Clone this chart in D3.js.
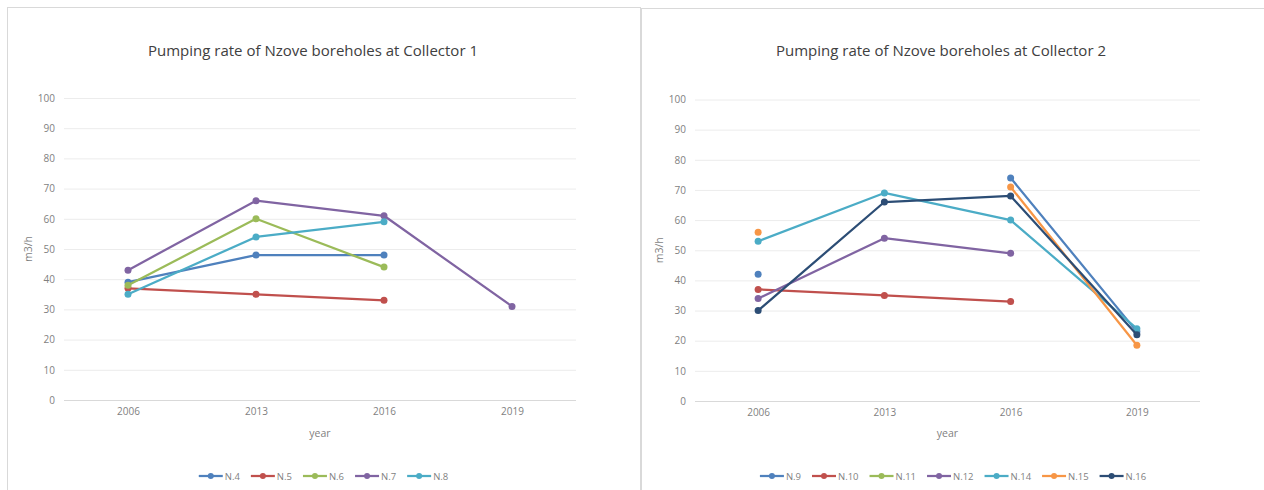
<!DOCTYPE html>
<html>
<head>
<meta charset="utf-8">
<script src="https://cdn.jsdelivr.net/npm/d3@7"></script>
<style>
  html, body { margin: 0; padding: 0; background: #ffffff; }
  svg { display: block; }
  text { font-family: "Open Sans", "Noto Sans", sans-serif; }
</style>
</head>
<body>
<svg id="chart" width="1264" height="490"></svg>
<script>
// Years on the category axis and the value ticks
const years = ["2006", "2013", "2016", "2019"];
const yTicks = [0, 10, 20, 30, 40, 50, 60, 70, 80, 90, 100];

// Collector 1 boreholes (m3/h), null = no measurement
const n4 = [39, 48, 48, null];
const n5 = [37, 35, 33, null];
const n6 = [38, 60, 44, null];
const n7 = [43, 66, 61, 31];
const n8 = [35, 54, 59, null];

// Collector 2 boreholes (m3/h)
const n9 = [42, null, 74, 23];
const n10 = [37, 35, 33, null];
const n11 = [null, null, null, null];
const n12 = [34, 54, 49, null];
const n14 = [53, 69, 60, 24];
const n15 = [56, null, 71, 18.5];
const n16 = [30, 66, 68, 22];

const leftNames = ["N.4", "N.5", "N.6", "N.7", "N.8"];
const leftValues = [n4, n5, n6, n7, n8];
const rightNames = ["N.9", "N.10", "N.11", "N.12", "N.14", "N.15", "N.16"];
const rightValues = [n9, n10, n11, n12, n14, n15, n16];

const leftColors = ["#4f81bd", "#c0504d", "#9bbb59", "#8064a2", "#4bacc6"];
const rightColors = ["#4f81bd", "#c0504d", "#9bbb59", "#8064a2", "#4bacc6", "#f79646", "#2c4d75"];

const svg = d3.select("#chart");

function drawPanel(cfg) {
  const g = svg.append("g");

  // panel frame
  g.append("rect")
    .attr("x", cfg.frame[0] + 0.5).attr("y", cfg.frame[1] + 0.5)
    .attr("width", cfg.frame[2]).attr("height", cfg.frame[3])
    .attr("fill", "#ffffff").attr("stroke", "#d9d9d9").attr("stroke-width", 1);

  const x = d3.scalePoint().domain(years).range([cfg.x0, cfg.x1]).padding(0.5);
  const y = d3.scaleLinear().domain([0, 100]).range([cfg.yBottom, cfg.yTop]);

  // gridlines + value labels
  const yAxis = g.append("g")
    .attr("transform", `translate(${cfg.x0},0)`)
    .call(d3.axisLeft(y).tickValues(yTicks).tickSize(-(cfg.x1 - cfg.x0)).tickPadding(9));
  yAxis.select(".domain").remove();
  yAxis.selectAll(".tick line").attr("stroke", "#ececec").attr("stroke-width", 1);
  yAxis.selectAll(".tick text").attr("fill", "#7f7f7f").attr("font-size", 10);
  yAxis.selectAll(".tick").filter(d => d === 0).select("line").attr("stroke", "#d9d9d9");

  // category labels
  const xAxis = g.append("g")
    .attr("transform", `translate(0,${cfg.yBottom})`)
    .call(d3.axisBottom(x).tickSize(0).tickPadding(8));
  xAxis.select(".domain").remove();
  xAxis.selectAll(".tick text").attr("fill", "#7f7f7f").attr("font-size", 10);

  // title and axis titles
  g.append("text")
    .attr("x", cfg.titleX).attr("y", 56)
    .attr("text-anchor", "middle").attr("font-size", 15).attr("fill", "#404040")
    .text(cfg.title);
  g.append("text")
    .attr("x", (cfg.x0 + cfg.x1) / 2).attr("y", 437)
    .attr("text-anchor", "middle").attr("font-size", 10.5).attr("fill", "#7f7f7f")
    .text("year");
  g.append("text")
    .attr("transform", `translate(${cfg.x0 - 32},${(cfg.yTop + cfg.yBottom) / 2}) rotate(-90)`)
    .attr("text-anchor", "middle").attr("font-size", 10.5).attr("fill", "#7f7f7f")
    .text("m3/h");

  // series lines and markers
  const line = d3.line()
    .defined(d => d != null)
    .x((d, i) => x(years[i]))
    .y(d => y(d));

  cfg.values.forEach((vals, k) => {
    const s = g.append("g");
    s.append("path")
      .attr("d", line(vals))
      .attr("fill", "none").attr("stroke", cfg.colors[k])
      .attr("stroke-width", 2.25).attr("stroke-linejoin", "round").attr("stroke-linecap", "round");
    s.selectAll("circle")
      .data(vals.map((v, i) => ({ v, i })).filter(d => d.v != null))
      .join("circle")
      .attr("cx", d => x(years[d.i])).attr("cy", d => y(d.v))
      .attr("r", 3.5).attr("fill", cfg.colors[k]);
  });

  // legend, centred on the panel
  const lg = g.append("g").attr("transform", `translate(0,476)`);
  const items = cfg.names.map((name, k) => {
    const it = lg.append("g");
    it.append("line").attr("x1", 0).attr("x2", 24).attr("y1", 0).attr("y2", 0)
      .attr("stroke", cfg.colors[k]).attr("stroke-width", 2.25);
    it.append("circle").attr("cx", 12).attr("cy", 0).attr("r", 3).attr("fill", cfg.colors[k]);
    const t = it.append("text").attr("x", 26).attr("y", 3.5)
      .attr("font-size", 9.5).attr("fill", "#7f7f7f").text(name);
    return { it, w: 26 + t.node().getComputedTextLength() };
  });
  const gap = 11;
  const total = d3.sum(items, d => d.w) + gap * (items.length - 1);
  let cx = cfg.legendCenter - total / 2;
  items.forEach(d => {
    d.it.attr("transform", `translate(${cx},0)`);
    cx += d.w + gap;
  });
}

drawPanel({
  frame: [7, 7, 633, 490],
  x0: 64, x1: 576, yTop: 98, yBottom: 400,
  title: "Pumping rate of Nzove boreholes at Collector 1",
  titleX: 313, legendCenter: 323.5,
  names: leftNames, values: leftValues, colors: leftColors
});

drawPanel({
  frame: [641, 8, 630, 490],
  x0: 695, x1: 1200, yTop: 99.5, yBottom: 401,
  title: "Pumping rate of Nzove boreholes at Collector 2",
  titleX: 941, legendCenter: 953,
  names: rightNames, values: rightValues, colors: rightColors
});
</script>
</body>
</html>
